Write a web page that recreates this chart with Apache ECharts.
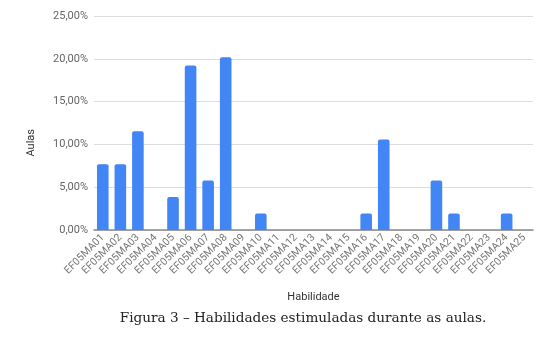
<!DOCTYPE html>
<html><head><meta charset="utf-8">
<script src="https://cdn.jsdelivr.net/npm/echarts@6/dist/echarts.min.js"></script>
<style>html,body{margin:0;padding:0;background:#fff}#c{width:547px;height:341px}</style>
</head><body><div id="c"></div>
<script>
const categories = ["EF05MA01","EF05MA02","EF05MA03","EF05MA04","EF05MA05","EF05MA06","EF05MA07","EF05MA08","EF05MA09","EF05MA10","EF05MA11","EF05MA12","EF05MA13","EF05MA14","EF05MA15","EF05MA16","EF05MA17","EF05MA18","EF05MA19","EF05MA20","EF05MA21","EF05MA22","EF05MA23","EF05MA24","EF05MA25"];
const aulas = [7.69,7.69,11.54,0,3.85,19.23,5.77,20.19,0,1.92,0,0,0,0,0,1.92,10.58,0,0,5.77,1.92,0,0,1.92,0];
const yTicks = [0,5,10,15,20,25];
const chart = echarts.init(document.getElementById('c'));
chart.setOption({
  animation:false,
  grid:{left:94,right:14,top:16,bottom:111,containLabel:false},
  graphic:[
    {type:'text',left:26,top:129,rotation:Math.PI/2,
      style:{text:'Aulas',font:'11px Roboto',fill:'#333'}},
    {type:'text',x:303,y:318,
      style:{text:"Figura 3 – Habilidades estimuladas durante as aulas.",font:'13.6px "DejaVu Serif"',fill:'#222',
        align:'center',verticalAlign:'middle'}}
  ],
  xAxis:{type:'category',data:categories,name:'Habilidade',nameLocation:'middle',nameGap:62,
    nameTextStyle:{fontFamily:'Roboto',fontSize:11,color:'#333'},
    axisTick:{show:false},axisLine:{lineStyle:{color:'#888',width:1.5}},
    axisLabel:{rotate:45,interval:0,fontFamily:'Roboto',fontSize:10.5,color:'#777',margin:6}},
  yAxis:{type:'value',min:0,max:25,interval:5,
    splitLine:{lineStyle:{color:'#ddd'}},axisLine:{show:false},axisTick:{show:false},
    axisLabel:{fontFamily:'Roboto',fontSize:11,color:'#666',margin:6,
      formatter:v=>v.toFixed(2).replace('.',',')+'%'}},
  series:[{type:'bar',data:aulas,barWidth:'66%',itemStyle:{color:'#4285F4',borderRadius:[2,2,0,0]}}]
});
</script></body></html>
